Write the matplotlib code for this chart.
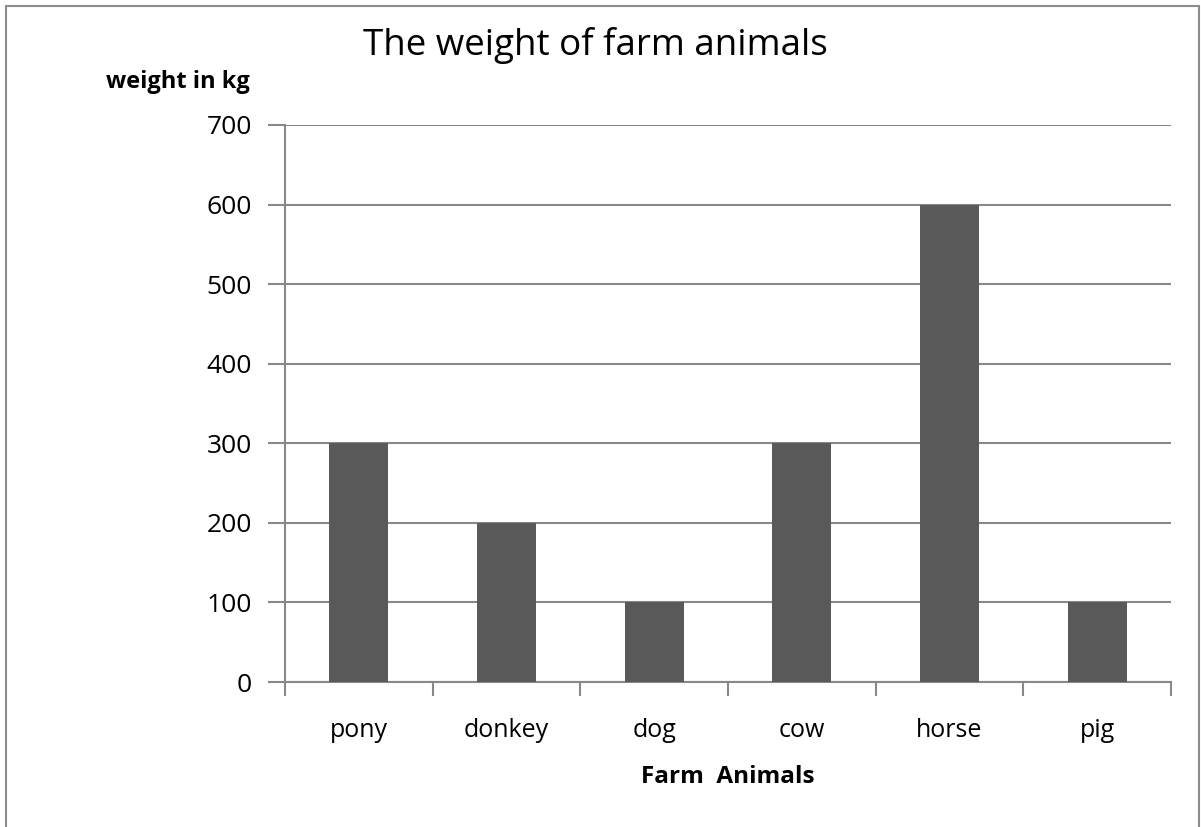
import matplotlib.pyplot as plt
from matplotlib.patches import Rectangle
import numpy as np

animals = ['pony', 'donkey', 'dog', 'cow', 'horse', 'pig']
weights = [300, 200, 100, 300, 600, 100]

bar_color = '#595959'
grid_color = '#888888'

plt.rcParams['font.family'] = ['Open Sans', 'DejaVu Sans']

fig = plt.figure(figsize=(12.01, 8.27), dpi=100)
ax = fig.add_axes([285 / 1201, 1 - 682 / 827, 886 / 1201, 557 / 827])

x = np.arange(len(animals))
ax.bar(x, weights, width=0.4, color=bar_color, zorder=3)

ax.set_xlim(-0.5, len(animals) - 0.5)
ax.set_ylim(0, 700)
ax.set_yticks(np.arange(0, 701, 100))
ax.yaxis.grid(True, color=grid_color, linewidth=1.5, zorder=0)
ax.tick_params(axis='y', length=12, width=1.5, color=grid_color, labelsize=19, pad=12)

# category labels at the centres, tick marks at the boundaries
ax.set_xticks(x)
ax.set_xticklabels(animals)
ax.tick_params(axis='x', which='major', length=0, labelsize=18, pad=26)
ax.set_xticks(np.arange(-0.5, len(animals)), minor=True)
ax.tick_params(axis='x', which='minor', length=10, width=1.5, color=grid_color)

for side in ['top', 'right']:
    ax.spines[side].set_visible(False)
for side in ['left', 'bottom']:
    ax.spines[side].set_color(grid_color)
    ax.spines[side].set_linewidth(1.5)

ax.set_xlabel('Farm  Animals', fontsize=17.5, fontweight='bold', labelpad=16)

fig.text(595 / 1201, 1 - 45 / 827, 'The weight of farm animals', fontsize=26.5,
         ha='center', va='center')
fig.text(250 / 1201, 1 - 82 / 827, 'weight in kg', fontsize=17, fontweight='bold',
         ha='right', va='center')

# border round the chart
fig.patches.append(Rectangle((6 / 1201, -0.02), 1193 / 1201, 1.02 - 6 / 827,
                             transform=fig.transFigure, fill=False,
                             edgecolor='#8c8c8c', linewidth=1.5))

fig.savefig('out.png', dpi=100)
